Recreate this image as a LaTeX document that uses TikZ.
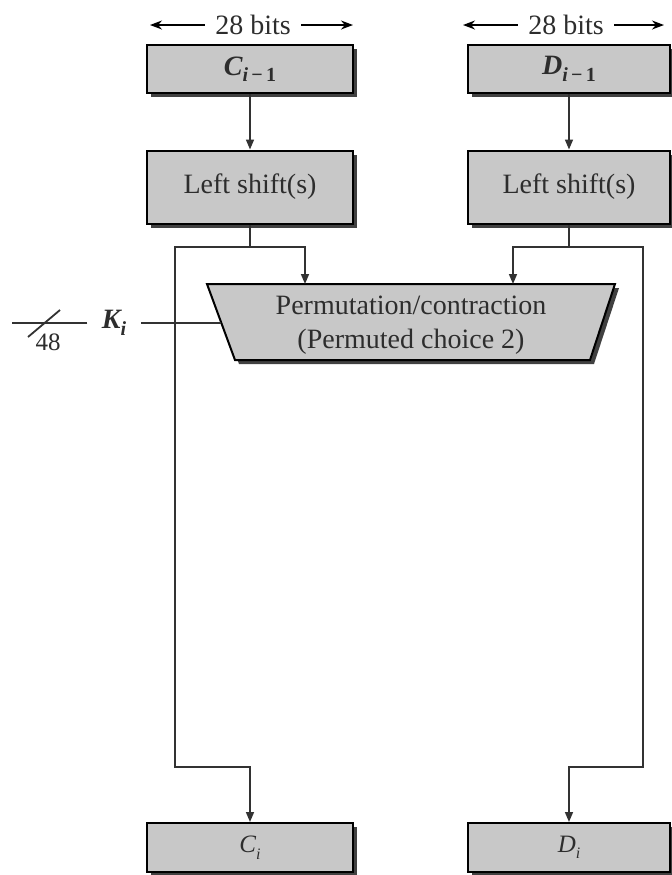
\documentclass[tikz,border=0pt]{standalone}
\usepackage{fontspec}
\setmainfont{Liberation Serif}
\usetikzlibrary{arrows.meta,shadows}
\definecolor{boxfill}{RGB}{200,200,200}
\definecolor{shadowc}{RGB}{65,65,65}
\definecolor{linec}{RGB}{50,50,50}
\definecolor{textc}{RGB}{45,45,45}
\tikzset{
  blk/.style={draw=black, line width=1pt, fill=boxfill, inner sep=0pt,
    text=textc, font=\fontsize{14}{16}\selectfont,
    drop shadow={shadow xshift=2pt, shadow yshift=-2pt, fill=shadowc, opacity=1}},
  wideblk/.style={blk, minimum width=103pt},
  narrowblk/.style={blk, minimum width=101pt},
  conn/.style={draw=linec, line width=0.8pt, -{Triangle[length=5pt,width=4pt]}},
  plainline/.style={draw=linec, line width=0.8pt},
  dimarrow/.style={draw=black, line width=0.7pt, -{Stealth[length=6pt,width=4.5pt]}},
  lbl/.style={font=\fontsize{14}{16}\selectfont, text=textc, inner sep=1pt},
}
\begin{document}
\begin{tikzpicture}[x=0.5pt,y=-0.5pt]
\useasboundingbox[fill=white] (0,0) rectangle (672,875);

% top row
\node[wideblk, minimum height=24pt] (Cim1) at (250,69)
  {{\bfseries\itshape C}\raisebox{-0.5ex}{\fontsize{10}{12}\selectfont\bfseries\itshape i\upshape\,−\,1}};
\node[narrowblk, minimum height=24pt] (Dim1) at (569,69)
  {{\bfseries\itshape D}\raisebox{-0.5ex}{\fontsize{10}{12}\selectfont\bfseries\itshape i\upshape\,−\,1}};

% dimension arrows
\node[lbl, fill=white, inner xsep=5pt] (bitsL) at (253,25) {28 bits};
\node[lbl, fill=white, inner xsep=5pt] (bitsR) at (566,25) {28 bits};
\coordinate (dL1) at (150,25);
\coordinate (dL2) at (353,25);
\coordinate (dR1) at (463,25);
\coordinate (dR2) at (664,25);
\draw[dimarrow] (bitsL) -- (dL1);
\draw[dimarrow] (bitsL) -- (dL2);
\draw[dimarrow] (bitsR) -- (dR1);
\draw[dimarrow] (bitsR) -- (dR2);

% left shifts
\node[wideblk, minimum height=36.5pt] (LSC) at (250,187) {Left shift(s)};
\node[narrowblk, minimum height=36.5pt] (LSD) at (569,187) {Left shift(s)};
\draw[conn] (Cim1) -- (LSC);
\draw[conn] (Dim1) -- (LSD);

% permutation/contraction trapezoid
\fill[shadowc] (211,288) -- (619,288) -- (594,364) -- (239,364) -- cycle;
\draw[line width=1pt, fill=boxfill] (207,284) -- (615,284) -- (590,360) -- (235,360) -- cycle;
\node[lbl, align=center, font=\fontsize{14}{17}\selectfont] (PC2) at (411,325)
  {Permutation/contraction\\(Permuted choice 2)};
\coordinate (pcL) at (305,284);
\coordinate (pcR) at (513,284);
\coordinate (pcW) at (221,323);

% bottom boxes
\node[wideblk, minimum height=24.5pt] (Ci) at (250,847.5)
  {{\fontsize{12.5}{14}\selectfont\itshape C}\raisebox{-0.5ex}{\fontsize{8}{10}\selectfont\itshape i}};
\node[narrowblk, minimum height=24.5pt] (Di) at (569,847.5)
  {{\fontsize{12.5}{14}\selectfont\itshape D}\raisebox{-0.5ex}{\fontsize{8}{10}\selectfont\itshape i}};

% junctions and routing
\coordinate (jL) at (250,247);
\coordinate (jR) at (569,247);
\coordinate (cL) at (175,767);
\coordinate (cR) at (643,767);
\draw[plainline] (LSC.south) -- (jL);
\draw[plainline] (LSD.south) -- (jR);
\draw[conn] (jL) -| (pcL);
\draw[conn] (jR) -| (pcR);
\draw[conn] (jL) -| (cL) -| (Ci.north);
\draw[conn] (jR) -| (cR) -| (Di.north);

% K_i output
\node[lbl, inner xsep=7pt] (Ki) at (114,323)
  {{\bfseries\itshape K}\raisebox{-0.5ex}{\fontsize{10}{12}\selectfont\bfseries\itshape i}};
\coordinate (kEnd) at (12,323);
\draw[plainline] (pcW) -- (Ki.east);
\draw[plainline] (Ki.west) -- (kEnd);
\coordinate (slA) at (28,337);
\coordinate (slB) at (60,310);
\draw[draw=linec, line width=0.9pt] (slA) -- (slB);
\node[lbl, font=\fontsize{12.5}{14}\selectfont] (w48) at (48,342) {48};
\end{tikzpicture}
\end{document}
